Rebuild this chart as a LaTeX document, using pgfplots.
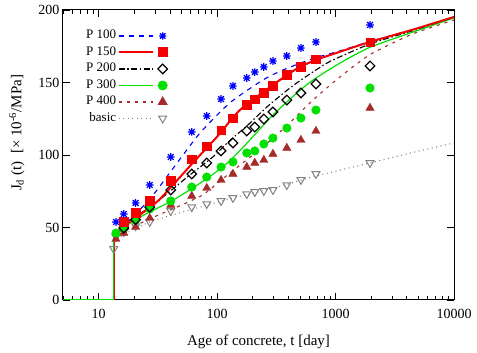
\documentclass[border=0pt]{standalone}
\usepackage{fontspec}
\setmainfont{Liberation Serif}
\usepackage{pgfplots}
\pgfplotsset{compat=1.18}
\definecolor{gpblue}{RGB}{0,0,255}
\definecolor{gpred}{RGB}{245,0,0}
\definecolor{gpgreen}{RGB}{0,225,0}
\definecolor{gpbrown}{RGB}{165,42,42}
\definecolor{gpgray}{RGB}{130,130,130}
\pgfdeclareplotmark{gpstar}{%
 \pgfpathmoveto{\pgfqpoint{-\pgfplotmarksize}{0pt}}\pgfpathlineto{\pgfqpoint{\pgfplotmarksize}{0pt}}%
 \pgfpathmoveto{\pgfqpoint{0pt}{-\pgfplotmarksize}}\pgfpathlineto{\pgfqpoint{0pt}{\pgfplotmarksize}}%
 \pgfpathmoveto{\pgfqpoint{-.75\pgfplotmarksize}{-.75\pgfplotmarksize}}\pgfpathlineto{\pgfqpoint{.75\pgfplotmarksize}{.75\pgfplotmarksize}}%
 \pgfpathmoveto{\pgfqpoint{-.75\pgfplotmarksize}{.75\pgfplotmarksize}}\pgfpathlineto{\pgfqpoint{.75\pgfplotmarksize}{-.75\pgfplotmarksize}}%
 \pgfusepathqstroke}

\pgfplotstableread{
t y
14 53.8
16.3 59.3
20.5 66.9
27 79.3
40.6 98.6
61.1 115.9
81.8 126.9
108 138.6
136 147.6
178 153.1
208 157.2
248 160.7
296 164.8
388 168.3
510 173.8
683 177.9
1954 189.7
}\mPa
\pgfplotstableread{
t y
16.3 53.8
20.5 60.0
27 68.3
40.6 82.1
61.1 97.2
81.8 106.2
108 117.2
136 125.5
178 134.5
208 138.6
248 142.8
296 147.6
388 155.2
510 160.7
683 166.2
1954 177.9
}\mPb
\pgfplotstableread{
t y
16.3 49.7
20.5 55.5
27 64.0
40.6 75.9
61.1 86.9
81.8 94.5
108 102.8
136 108.3
178 116.6
208 119.3
248 124.8
296 129.7
388 137.9
510 142.8
683 149.0
1954 161.4
}\mPc
\pgfplotstableread{
t y
14 46.2
16.3 49.7
20.5 55.2
27 62.8
40.6 68.3
61.1 77.9
81.8 84.8
108 91.7
136 95.2
178 101.4
208 102.8
248 107.6
296 111.7
388 118.6
510 125.5
683 131.0
1954 146.2
}\mPd
\pgfplotstableread{
t y
14 42.0
16.3 46.2
20.5 50.3
27 56.5
40.6 65.5
61.1 71.7
81.8 77.2
108 82.7
136 86.9
178 91.7
208 94.5
248 96.5
296 100.7
388 104.8
510 110.3
683 116.5
1954 132.4
}\mPe
\pgfplotstableread{
t y
13.4 35.2
14 43.5
16.3 46.9
20.5 51.0
27 53.8
40.6 61.4
61.1 64.1
81.8 66.2
108 68.3
136 70.4
178 73.1
208 74.5
248 75.2
296 75.9
388 79.3
510 82.8
683 86.9
1954 94.5
}\mBa

\pgfplotstableread{
t y
13.39 41.4
15.95 50.3
22.2 58.6
32.8 69.5
62.3 94.5
99.4 112.4
155.6 131.0
295.7 148.3
471.8 159.6
682.9 165.6
1089 171.2
1954 178.0
4511 186.5
10000 195.2
}\cPb
\pgfplotstableread{
t y
13.39 42.8
16.59 51.7
22.22 62.1
29.74 73.8
42.22 90.5
71.40 115.0
128.1 136.0
243.4 151.7
359.3 158.6
644.2 166.5
1089 171.8
1954 178.3
4511 186.5
10000 195.2
}\cPa
\pgfplotstableread{
t y
13.39 42.8
16.59 51.0
22.22 59.3
29.74 66.5
41.40 75.9
58.78 86.2
91.97 98.6
128.1 110.0
178.3 120.0
263.1 133.1
411.6 146.2
573.1 154.5
896.7 164.5
1954 176.6
4511 185.8
10000 195.2
}\cPc
\pgfplotstableread{
t y
13.39 44.1
15.05 48.3
20.96 55.9
26.99 60.7
39.82 67.6
62.3 77.2
91.97 86.6
128.1 96.0
189.0 110.3
295.7 127.6
471.8 142.8
644.2 151.7
1089 163.4
1954 174.3
4511 184.8
10000 194.5
}\cPd
\pgfplotstableread{
t y
13.39 41.4
15.05 45.5
20.96 51.7
29.74 57.5
42.22 62.8
75.69 72.5
128.1 87.6
243.4 105.5
388.3 120.3
644.2 137.9
1089 153.8
1954 169.3
4511 183.6
10000 193.1
}\cPe
\pgfplotstableread{
t y
13.39 40.0
16.59 45.5
26.99 53.8
58.78 62.1
135.7 70.3
295.7 77.0
682.9 85.5
1954 94.5
4511 101.8
10000 108.3
}\cBa

\begin{document}
\begin{tikzpicture}
\begin{axis}[
  scale only axis, width=391pt, height=290pt,
  xmode=log, xmin=5, xmax=10000, ymin=0, ymax=200,
  xtick={10,100,1000,10000}, xticklabels={10,100,1000,10000},
  minor xtick={5,6,7,8,9,20,30,40,50,60,70,80,90,200,300,400,500,600,700,800,900,2000,3000,4000,5000,6000,7000,8000,9000},
  ytick={0,50,100,150,200},
  tick align=inside,
  major tick length=7pt, minor tick length=4pt,
  every tick/.style={black, line width=0.8pt},
  axis line style={line width=1pt},
  /pgf/number format/assume math mode=true,
  ticklabel style={font=\fontsize{14}{16}\selectfont},
  xticklabel style={yshift=-6pt},
  label style={font=\fontsize{15}{17}\selectfont},
  xlabel={Age of concrete, t [day]},
  xlabel style={at={(axis description cs:0.5,-0.145)}, anchor=center},
  ylabel={J\textsubscript{d} (t)~~[× 10\textsuperscript{-6}/MPa]},
  ylabel style={at={(axis description cs:-0.118,0.576)}, anchor=center, rotate=0},
  legend plot pos=right,
  legend cell align=right,
  legend image code/.code={%
    \draw[#1,mark=none] (4pt,0pt) -- (38pt,0pt);
    \draw[#1] plot coordinates {(48pt,0pt)};},
  legend style={at={(0.055,0.937)}, anchor=north west, draw=none, fill=none,
    inner sep=0pt, row sep=1.5pt,
    font=\fontsize{13}{15}\selectfont,
    nodes={inner sep=1.5pt, text height=9pt, text depth=3pt}},
  clip=true,
]
% legend
\addlegendimage{gpblue, line width=1.1pt, dash pattern=on 5pt off 5pt, mark=gpstar, mark size=3.6pt, mark options={solid, line width=1.3pt}}
\addlegendentry{P 100}
\addlegendimage{gpred, line width=2pt, mark=square*, mark size=4pt, mark options={solid}}
\addlegendentry{P 150}
\addlegendimage{black, line width=1.1pt, dash pattern=on 6pt off 2.5pt on 1.5pt off 2.5pt, mark=square, mark size=3.4pt, mark options={solid, rotate=45, fill=white, line width=1.2pt}}
\addlegendentry{P 200}
\addlegendimage{gpgreen, line width=1.2pt, mark=*, mark size=4.3pt, mark options={solid}}
\addlegendentry{P 300}
\addlegendimage{gpbrown, line width=1.1pt, dash pattern=on 3pt off 5pt, mark=triangle*, mark size=4.8pt, mark options={solid}}
\addlegendentry{P 400}
\addlegendimage{gpgray, line width=1.1pt, dash pattern=on 1pt off 3.5pt, mark=triangle, mark size=4.5pt, mark options={solid, rotate=180, line width=1pt}}
\addlegendentry{basic}

% step parts
\addplot[forget plot, gpgray, line width=1.1pt] coordinates {(5,0) (13.39,0) (13.39,40.0)};
\addplot[forget plot, gpblue, line width=1.1pt] coordinates {(5,0) (13.39,0) (13.39,42.8)};
\addplot[forget plot, black, line width=1.1pt] coordinates {(5,0) (13.39,0) (13.39,42.8)};
\addplot[forget plot, gpred, line width=2pt] coordinates {(5,0) (13.39,0) (13.39,41.4)};
\addplot[forget plot, gpbrown, line width=1.1pt] coordinates {(5,0) (13.39,0) (13.39,41.4)};
\addplot[forget plot, gpgreen, line width=1.2pt] coordinates {(5,0) (13.39,0) (13.39,44.1)};

% model curves
\addplot[forget plot, gpgray, line width=1.1pt, dash pattern=on 1pt off 3.5pt, smooth, tension=0.35] table[x=t,y=y] {\cBa};
\addplot[forget plot, gpbrown, line width=1.1pt, dash pattern=on 3pt off 5pt, smooth, tension=0.35] table[x=t,y=y] {\cPe};
\addplot[forget plot, gpgreen, line width=1.2pt, smooth, tension=0.35] table[x=t,y=y] {\cPd};
\addplot[forget plot, black, line width=1.1pt, dash pattern=on 6pt off 2.5pt on 1.5pt off 2.5pt, smooth, tension=0.35] table[x=t,y=y] {\cPc};
\addplot[forget plot, gpblue, line width=1.1pt, dash pattern=on 5pt off 5pt, smooth, tension=0.35] table[x=t,y=y] {\cPa};
\addplot[forget plot, gpred, line width=2pt, smooth, tension=0.35] table[x=t,y=y] {\cPb};

% measured points
\addplot[forget plot, only marks, gpgray, mark=triangle, mark size=4.5pt, mark options={rotate=180, line width=1pt}] table[x=t,y=y] {\mBa};
\addplot[forget plot, only marks, gpbrown, mark=triangle*, mark size=4.8pt] table[x=t,y=y] {\mPe};
\addplot[forget plot, only marks, gpgreen, mark=*, mark size=4.3pt] table[x=t,y=y] {\mPd};
\addplot[forget plot, only marks, black, mark=square, mark size=3.4pt, mark options={rotate=45, fill=white, line width=1.2pt}] table[x=t,y=y] {\mPc};
\addplot[forget plot, only marks, gpred, mark=square*, mark size=4.3pt] table[x=t,y=y] {\mPb};
\addplot[forget plot, only marks, gpblue, mark=gpstar, mark size=3.8pt, mark options={line width=1.3pt}] table[x=t,y=y] {\mPa};
\end{axis}
\pgfresetboundingbox
\path[use as bounding box] (-63pt,-53pt) rectangle (414pt,300pt);
\end{tikzpicture}
\end{document}
